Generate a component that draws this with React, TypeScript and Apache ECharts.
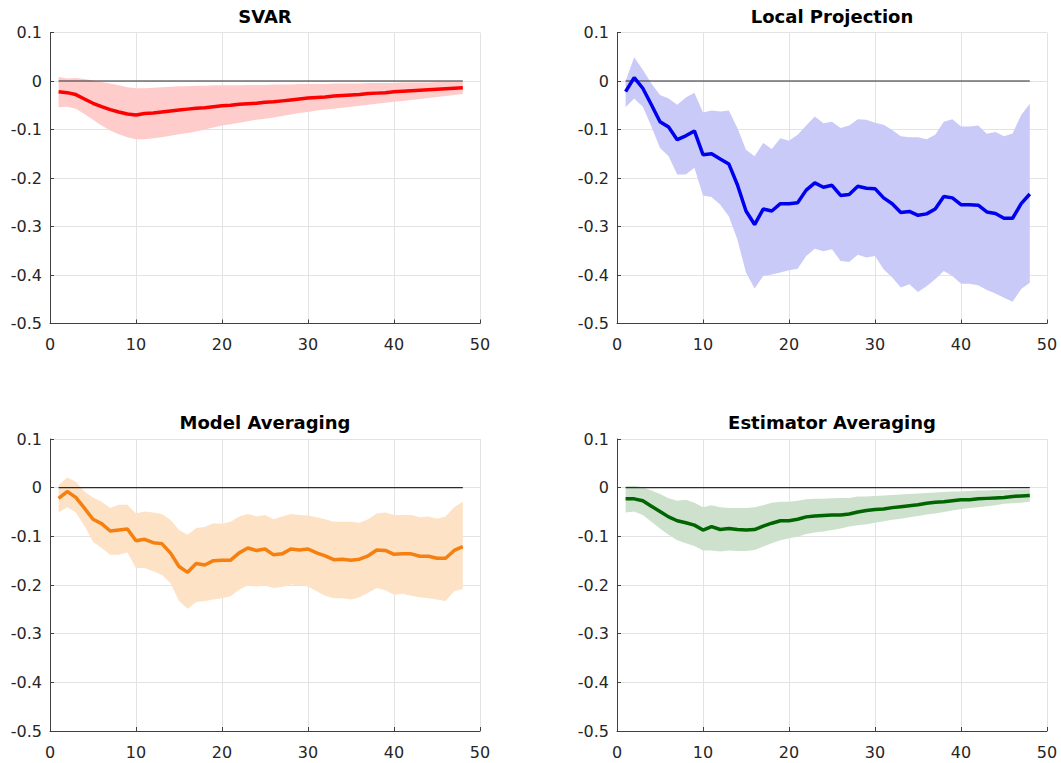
import React, { useEffect, useRef } from "react";
import * as echarts from "echarts";

// Horizons 1..48
const horizons: number[] = Array.from({ length: 48 }, (_, i) => i + 1);

const xTicks = { min: 0, max: 50, interval: 10 };
const yTicks = { min: -0.5, max: 0.1, interval: 0.1 };

const panelTitles = ["SVAR", "Local Projection", "Model Averaging", "Estimator Averaging"];

// SVAR impulse response and band
const svarMean = [
  -0.022, -0.024, -0.028, -0.037, -0.046, -0.053, -0.059, -0.064, -0.068, -0.070,
  -0.067, -0.066, -0.064, -0.062, -0.060, -0.058, -0.056, -0.055, -0.053, -0.051,
  -0.050, -0.048, -0.047, -0.046, -0.044, -0.043, -0.041, -0.039, -0.037, -0.035,
  -0.034, -0.033, -0.031, -0.030, -0.029, -0.028, -0.026, -0.025, -0.024, -0.022,
  -0.021, -0.020, -0.019, -0.018, -0.017, -0.016, -0.015, -0.014,
];
const svarUpper = [
  0.008, 0.005, 0.006, 0.004, 0.001, -0.002, -0.005, -0.009, -0.013, -0.015,
  -0.015, -0.014, -0.013, -0.012, -0.011, -0.011, -0.010, -0.010, -0.009, -0.009,
  -0.009, -0.009, -0.008, -0.008, -0.008, -0.007, -0.007, -0.007, -0.006, -0.006,
  -0.006, -0.006, -0.005, -0.005, -0.005, -0.005, -0.004, -0.004, -0.004, -0.004,
  -0.003, -0.003, -0.003, -0.003, -0.002, -0.002, -0.002, -0.002,
];
const svarLower = [
  -0.054, -0.053, -0.057, -0.068, -0.080, -0.092, -0.102, -0.110, -0.116, -0.120,
  -0.120, -0.118, -0.116, -0.113, -0.110, -0.107, -0.104, -0.100, -0.096, -0.092,
  -0.089, -0.086, -0.083, -0.080, -0.078, -0.075, -0.072, -0.069, -0.066, -0.064,
  -0.061, -0.059, -0.057, -0.055, -0.053, -0.051, -0.049, -0.047, -0.045, -0.043,
  -0.041, -0.039, -0.037, -0.035, -0.033, -0.031, -0.029, -0.027,
];

// Local projection impulse response and band
const lpMean = [
  -0.022, 0.007, -0.015, -0.049, -0.084, -0.095, -0.121, -0.113, -0.103, -0.152,
  -0.150, -0.161, -0.171, -0.214, -0.268, -0.296, -0.264, -0.268, -0.253, -0.253,
  -0.251, -0.225, -0.210, -0.219, -0.215, -0.236, -0.234, -0.217, -0.221, -0.222,
  -0.241, -0.253, -0.271, -0.269, -0.277, -0.274, -0.264, -0.238, -0.241, -0.255,
  -0.255, -0.256, -0.270, -0.273, -0.283, -0.283, -0.253, -0.233,
];
const lpUpper = [
  0.000, 0.049, 0.023, -0.005, -0.029, -0.036, -0.049, -0.034, -0.024, -0.065,
  -0.061, -0.063, -0.061, -0.097, -0.142, -0.155, -0.128, -0.140, -0.118, -0.123,
  -0.111, -0.092, -0.073, -0.087, -0.084, -0.097, -0.092, -0.079, -0.080, -0.086,
  -0.090, -0.101, -0.114, -0.116, -0.116, -0.120, -0.111, -0.084, -0.079, -0.094,
  -0.094, -0.092, -0.109, -0.105, -0.114, -0.108, -0.070, -0.047,
];
const lpLower = [
  -0.054, -0.036, -0.053, -0.094, -0.138, -0.155, -0.193, -0.193, -0.179, -0.236,
  -0.239, -0.255, -0.279, -0.327, -0.395, -0.428, -0.402, -0.399, -0.395, -0.390,
  -0.387, -0.361, -0.346, -0.351, -0.347, -0.371, -0.373, -0.358, -0.364, -0.361,
  -0.388, -0.405, -0.426, -0.419, -0.435, -0.423, -0.409, -0.392, -0.402, -0.418,
  -0.418, -0.421, -0.431, -0.438, -0.447, -0.455, -0.429, -0.416,
];

// Model averaging impulse response and band
const maMean = [
  -0.022, -0.008, -0.020, -0.042, -0.065, -0.074, -0.089, -0.087, -0.085, -0.109,
  -0.106, -0.113, -0.115, -0.134, -0.162, -0.174, -0.156, -0.159, -0.150, -0.149,
  -0.149, -0.134, -0.124, -0.129, -0.126, -0.138, -0.136, -0.126, -0.128, -0.126,
  -0.134, -0.140, -0.148, -0.147, -0.149, -0.147, -0.140, -0.128, -0.129, -0.137,
  -0.136, -0.136, -0.141, -0.141, -0.145, -0.145, -0.129, -0.121,
];
const maUpper = [
  0.005, 0.021, 0.012, -0.008, -0.020, -0.029, -0.042, -0.035, -0.035, -0.053,
  -0.049, -0.051, -0.054, -0.066, -0.087, -0.097, -0.083, -0.081, -0.073, -0.074,
  -0.070, -0.059, -0.054, -0.059, -0.056, -0.065, -0.059, -0.054, -0.056, -0.057,
  -0.061, -0.065, -0.070, -0.070, -0.070, -0.072, -0.065, -0.053, -0.051, -0.056,
  -0.056, -0.056, -0.061, -0.059, -0.064, -0.059, -0.040, -0.029,
];
const maLower = [
  -0.051, -0.040, -0.051, -0.078, -0.111, -0.124, -0.138, -0.138, -0.133, -0.165,
  -0.165, -0.172, -0.179, -0.196, -0.233, -0.249, -0.235, -0.233, -0.230, -0.227,
  -0.223, -0.210, -0.201, -0.203, -0.201, -0.206, -0.204, -0.199, -0.201, -0.203,
  -0.213, -0.222, -0.227, -0.227, -0.230, -0.225, -0.216, -0.206, -0.211, -0.220,
  -0.218, -0.222, -0.225, -0.227, -0.230, -0.233, -0.213, -0.208,
];

// Estimator averaging impulse response and band
const eaMean = [
  -0.023, -0.023, -0.027, -0.038, -0.049, -0.060, -0.068, -0.072, -0.077, -0.087,
  -0.080, -0.086, -0.084, -0.086, -0.087, -0.086, -0.079, -0.073, -0.068, -0.068,
  -0.065, -0.060, -0.058, -0.057, -0.056, -0.056, -0.054, -0.050, -0.047, -0.045,
  -0.044, -0.041, -0.039, -0.037, -0.035, -0.032, -0.030, -0.029, -0.027, -0.025,
  -0.025, -0.023, -0.022, -0.021, -0.020, -0.018, -0.017, -0.016,
];
const eaUpper = [
  0.003, 0.004, 0.001, -0.006, -0.013, -0.022, -0.027, -0.025, -0.031, -0.040,
  -0.036, -0.040, -0.042, -0.042, -0.042, -0.040, -0.036, -0.031, -0.029, -0.029,
  -0.027, -0.024, -0.023, -0.023, -0.022, -0.021, -0.021, -0.018, -0.018, -0.017,
  -0.016, -0.015, -0.014, -0.013, -0.012, -0.011, -0.010, -0.009, -0.008, -0.008,
  -0.007, -0.006, -0.006, -0.005, -0.005, -0.004, -0.004, -0.003,
];
const eaLower = [
  -0.051, -0.049, -0.056, -0.070, -0.084, -0.097, -0.108, -0.114, -0.120, -0.129,
  -0.129, -0.131, -0.129, -0.130, -0.130, -0.128, -0.121, -0.114, -0.108, -0.104,
  -0.101, -0.095, -0.092, -0.090, -0.087, -0.084, -0.080, -0.077, -0.075, -0.072,
  -0.069, -0.066, -0.064, -0.061, -0.058, -0.055, -0.053, -0.050, -0.047, -0.044,
  -0.042, -0.040, -0.038, -0.036, -0.033, -0.032, -0.031, -0.029,
];

const zeroLine = horizons.map(() => 0);

const panels = [
  { title: panelTitles[0], mean: svarMean, upper: svarUpper, lower: svarLower, line: "#ff0000", band: "#ffcccc" },
  { title: panelTitles[1], mean: lpMean, upper: lpUpper, lower: lpLower, line: "#0000f0", band: "#cacaf9" },
  { title: panelTitles[2], mean: maMean, upper: maUpper, lower: maLower, line: "#f57f0f", band: "#fde2c6" },
  { title: panelTitles[3], mean: eaMean, upper: eaUpper, lower: eaLower, line: "#006400", band: "#cde1cd" },
];

const grids = [
  { left: 50, top: 32.5, width: 430, height: 291 },
  { left: 617, top: 32.5, width: 430, height: 291 },
  { left: 50, top: 439, width: 430, height: 292 },
  { left: 617, top: 439, width: 430, height: 292 },
];

const FONT = "DejaVu Sans";

export default function App() {
  const ref = useRef<HTMLDivElement>(null);

  useEffect(() => {
    if (!ref.current) return;
    const chart = echarts.init(ref.current, undefined, { renderer: "svg" });

    const xAxis = grids.map((_, i) => ({
      type: "value",
      gridIndex: i,
      min: xTicks.min,
      max: xTicks.max,
      interval: xTicks.interval,
      axisLine: { show: true, onZero: false, lineStyle: { color: "#404040", width: 1 } },
      axisTick: { show: true, inside: true, length: 4, lineStyle: { color: "#404040" } },
      axisLabel: { color: "#262626", fontFamily: FONT, fontSize: 16, margin: 13 },
      splitLine: { show: true, lineStyle: { color: "#e3e3e3", width: 1 } },
    }));

    const yAxis = grids.map((_, i) => ({
      type: "value",
      gridIndex: i,
      min: yTicks.min,
      max: yTicks.max,
      interval: yTicks.interval,
      axisLine: { show: true, onZero: false, lineStyle: { color: "#404040", width: 1 } },
      axisTick: { show: true, inside: true, length: 4, lineStyle: { color: "#404040" } },
      axisLabel: {
        color: "#262626",
        fontFamily: FONT,
        fontSize: 16,
        margin: 8,
        formatter: (v: number) => String(Math.round(v * 10) / 10),
      },
      splitLine: { show: true, lineStyle: { color: "#e3e3e3", width: 1 } },
    }));

    const series: any[] = [];
    panels.forEach((p, i) => {
      // confidence band drawn as one polygon: upper bound forward, lower bound back
      series.push({
        type: "custom",
        xAxisIndex: i,
        yAxisIndex: i,
        data: [[horizons[0], p.lower[0]]],
        silent: true,
        z: 1,
        renderItem: (_params: any, api: any) => {
          const pts: number[][] = [];
          horizons.forEach((h, k) => pts.push(api.coord([h, p.upper[k]])));
          for (let k = horizons.length - 1; k >= 0; k--) pts.push(api.coord([horizons[k], p.lower[k]]));
          return {
            type: "polygon",
            shape: { points: pts },
            style: { fill: p.band, stroke: "none" },
          };
        },
      });
      // zero reference line
      series.push({
        type: "line",
        xAxisIndex: i,
        yAxisIndex: i,
        data: horizons.map((h, k) => [h, zeroLine[k]]),
        showSymbol: false,
        lineStyle: { color: "#2b2b2b", width: 1.2 },
        silent: true,
        z: 2,
      });
      // point estimate
      series.push({
        type: "line",
        xAxisIndex: i,
        yAxisIndex: i,
        data: horizons.map((h, k) => [h, p.mean[k]]),
        showSymbol: false,
        lineStyle: { color: p.line, width: 3.5 },
        silent: true,
        z: 3,
      });
    });

    const title = panels.map((p, i) => ({
      text: p.title,
      left: grids[i].left + grids[i].width / 2,
      top: grids[i].top - 25.5,
      textAlign: "center",
      padding: 0,
      textStyle: { fontFamily: FONT, fontSize: 18, fontWeight: "bold", color: "#000000" },
    }));

    chart.setOption({
      animation: false,
      backgroundColor: "#ffffff",
      title,
      grid: grids.map((g) => ({ ...g, containLabel: false })),
      xAxis,
      yAxis,
      series,
    });

    return () => chart.dispose();
  }, []);

  return (
    <div
      ref={ref}
      style={{ position: "fixed", left: 0, top: 0, width: 1061, height: 763, background: "#ffffff" }}
    />
  );
}
